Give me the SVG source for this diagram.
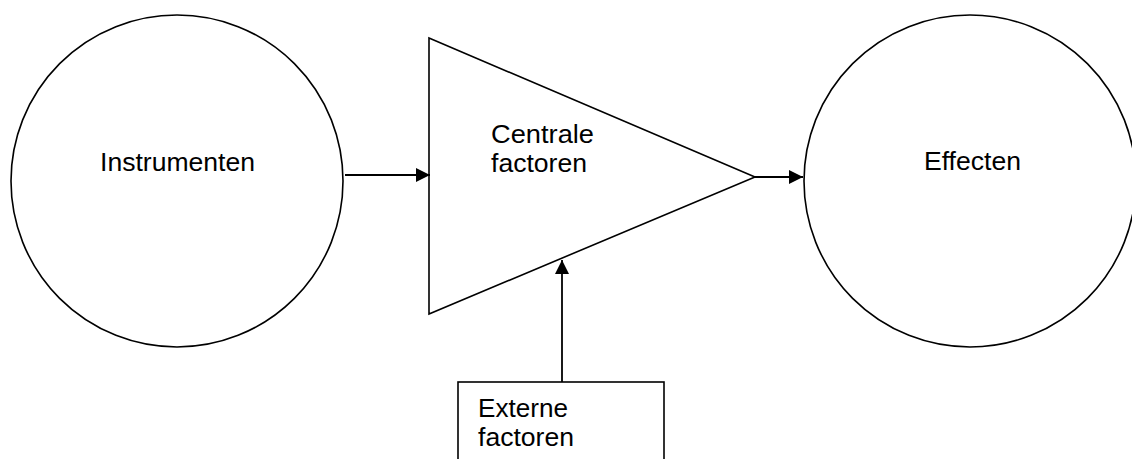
<svg xmlns="http://www.w3.org/2000/svg" width="1132" height="459" viewBox="0 0 1132 459">
<style>
.s{fill:none;stroke:#000;stroke-width:1.6}
.c{stroke:#000;stroke-width:1.8;fill:none}
text{font-family:"Liberation Sans",Arial,sans-serif;font-size:25px;fill:#000}
</style>
<defs>
<marker id="ah" viewBox="0 0 14 14" refX="14" refY="7" markerWidth="14" markerHeight="14" markerUnits="userSpaceOnUse" orient="auto">
<path d="M0,0 L14,7 L0,14 Z" fill="#000"/>
</marker>
</defs>
<rect width="1132" height="459" fill="#fff"/>
<g id="instrumenten">
<circle class="s" cx="177" cy="181" r="166"/>
<text x="100" y="171" textLength="155" lengthAdjust="spacingAndGlyphs">Instrumenten</text>
</g>
<g id="centrale">
<polygon class="s" points="429,38 755,177 429,314"/>
<text x="491" y="143" textLength="103" lengthAdjust="spacingAndGlyphs">Centrale</text>
<text x="491" y="172" textLength="96" lengthAdjust="spacingAndGlyphs">factoren</text>
</g>
<g id="effecten">
<circle class="s" cx="970" cy="181" r="166"/>
<text x="924" y="170" textLength="97" lengthAdjust="spacingAndGlyphs">Effecten</text>
</g>
<g id="externe">
<rect class="s" x="458" y="382" width="206" height="100"/>
<text x="478" y="417" textLength="90" lengthAdjust="spacingAndGlyphs">Externe</text>
<text x="478" y="446" textLength="96" lengthAdjust="spacingAndGlyphs">factoren</text>
</g>
<g id="connectors">
<line class="c" x1="345" y1="175" x2="430" y2="175" marker-end="url(#ah)"/>
<line class="c" x1="755" y1="177" x2="803" y2="177" marker-end="url(#ah)"/>
<line class="c" x1="562" y1="382" x2="562" y2="260" marker-end="url(#ah)"/>
</g>
</svg>
